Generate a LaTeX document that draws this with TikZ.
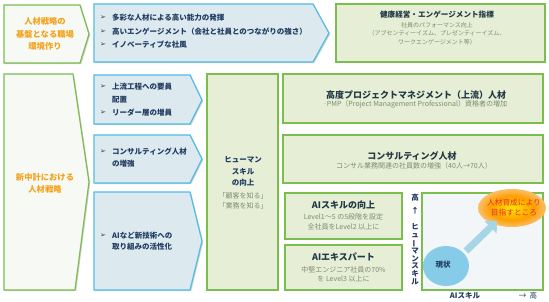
\documentclass[tikz,border=0pt]{standalone}
\usepackage{fontspec}
\setmainfont{Noto Sans CJK JP}
\newfontfamily\dejavu{DejaVu Sans}
\usepackage{graphicx}
\usetikzlibrary{shadows,arrows.meta}
\definecolor{bfill}{HTML}{DCE9EF}
\definecolor{bdraw}{HTML}{4FBDE6}
\definecolor{gfill}{HTML}{E6EFD5}
\definecolor{gdraw}{HTML}{7CBE4E}
\definecolor{wfill}{HTML}{F7F9F5}
\definecolor{orng}{HTML}{F4A21C}
\definecolor{navy}{HTML}{1F3B60}
\definecolor{dark}{HTML}{233845}
\definecolor{subc}{HTML}{7D8B72}
\definecolor{plotbg}{HTML}{F3F6F8}
\definecolor{redt}{HTML}{E5302A}
\definecolor{ablue}{HTML}{A6D5E5}
\definecolor{cblue}{HTML}{86CBE8}
\pgfdeclareradialshading{glowshade}{\pgfpoint{0bp}{0bp}}{color(0bp)=(yellow!80!orange); color(16bp)=(orange!75!yellow); color(32bp)=(orange!25!plotbg); color(46bp)=(plotbg); color(50bp)=(plotbg)}
\pgfdeclareradialshading{nowshade}{\pgfpoint{0bp}{0bp}}{color(0bp)=(cblue); color(34bp)=(cblue); color(46bp)=(cblue!30!plotbg); color(50bp)=(plotbg)}
\newcommand\bulmark{{\dejavu\fontsize{7}{7}\selectfont ➢}}
\begin{document}
\begin{tikzpicture}[x=1pt,y=-1pt,
  shp/.style={line width=1.2pt, drop shadow={shadow xshift=1.2pt,shadow yshift=-1.2pt,opacity=0.3,fill=black!60}},
  bshape/.style={shp, draw=bdraw, fill=bfill},
  gshape/.style={shp, draw=gdraw, fill=gfill},
  wshape/.style={shp, draw=gdraw, fill=wfill},
  otxt/.style={font=\bfseries\fontsize{8.3}{12.5}\selectfont, text=orng, align=center, inner sep=0},
  btxt/.style={font=\bfseries\fontsize{7.5}{9}\selectfont, text=navy, anchor=west, inner sep=0},
  bul/.style={text=navy, inner sep=0},
  htxt/.style={font=\bfseries\fontsize{7.5}{9}\selectfont, text=navy, inner sep=0},
  gtitle/.style={font=\bfseries\fontsize{9}{10}\selectfont, text=dark, inner sep=0},
  gsub/.style={font=\fontsize{7}{8}\selectfont, text=subc, inner sep=0},
  axtxt/.style={font=\bfseries\fontsize{7.5}{8}\selectfont, text=navy, inner sep=0}
]
\useasboundingbox (0,0) rectangle (549,302);
\fill[white] (0,0) rectangle (549,302);

% top row
\draw[wshape] (4,5) -- (80,5) -- (89,34) -- (80,63) -- (4,63) -- cycle;
\node[otxt] (t1) at (45,34) {人材戦略の\\基盤となる職場\\環境作り};

\draw[bshape] (94,4) -- (313,4) -- (329,33) -- (313,62) -- (94,62) -- cycle;
\node[bul] (tb1) at (103,18) {\bulmark};
\node[btxt] (tt1) at (112,18) {多彩な人材による高い能力の発揮};
\node[bul] (tb2) at (103,31.5) {\bulmark};
\node[btxt] (tt2) at (112,31.5) {高いエンゲージメント（会社と社員とのつながりの強さ）};
\node[bul] (tb3) at (103,45) {\bulmark};
\node[btxt] (tt3) at (112,45) {イノベーティブな社風};

\draw[gshape] (336,4) rectangle (545,62);
\node[gtitle, font=\bfseries\fontsize{7.6}{9}\selectfont] (kt) at (437,15) {健康経営・エンゲージメント指標};
\node[gsub, font=\fontsize{6}{7}\selectfont] (ks1) at (437,25) {社員のパフォーマンス向上};
\node[gsub, font=\fontsize{6}{7}\selectfont] (ks2) at (437,33.5) {（アブセンティーイズム、プレゼンティーイズム、};
\node[gsub, font=\fontsize{6}{7}\selectfont] (ks3) at (437,42) {ワークエンゲージメント等）};

% second row left
\draw[wshape] (4,74) -- (73,74) -- (89,182) -- (75,290) -- (4,290) -- cycle;
\node[otxt] (t2) at (45,183.5) {新中計における\\人材戦略};

% blue boxes
\draw[bshape] (94,75) -- (190,75) -- (202,100) -- (190,124) -- (94,124) -- cycle;
\node[bul] (b1a) at (103,87) {\bulmark};
\node[btxt] (b1t1) at (112,87) {上流工程への要員};
\node[btxt] (b1t2) at (112,100) {配置};
\node[bul] (b1b) at (103,113) {\bulmark};
\node[btxt] (b1t3) at (112,113) {リーダー層の増員};

\draw[bshape] (94,135) -- (190,135) -- (202,159) -- (190,183) -- (94,183) -- cycle;
\node[bul] (b2a) at (103,152) {\bulmark};
\node[btxt] (b2t1) at (112,152) {コンサルティング人材};
\node[btxt] (b2t2) at (112,164) {の増強};

\draw[bshape] (94,192) -- (190,192) -- (202,241) -- (190,290) -- (94,290) -- cycle;
\node[bul] (b3a) at (103,236) {\bulmark};
\node[btxt] (b3t1) at (112,236) {AIなど新技術への};
\node[btxt] (b3t2) at (112,247) {取り組みの活性化};

% human skill
\draw[gshape] (207,74) rectangle (278,290);
\node[htxt] (h1) at (243,160) {ヒューマン};
\node[htxt] (h2) at (243,171.5) {スキル};
\node[htxt] (h3) at (243,183) {の向上};
\node[gsub] (h4) at (243,196) {「顧客を知る」};
\node[gsub] (h5) at (243,205.5) {「業務を知る」};

% right boxes
\draw[gshape] (283,74) rectangle (543,123);
\node[gtitle] (g1t) at (416,95) {高度プロジェクトマネジメント（上流）人材};
\node[gsub] (g1s) at (415,104) {·PMP（Project Management Professional）資格者の増加};

\draw[gshape] (283,135) rectangle (543,183);
\node[gtitle] (g2t) at (412,156) {コンサルティング人材};
\node[gsub] (g2s) at (414,165.5) {コンサル業務関連の社員数の増強（40人→70人）};

\draw[gshape] (285,193) rectangle (402,239);
\node[gtitle] (g3t) at (343.5,205) {AIスキルの向上};
\node[gsub] (g3s1) at (343.5,217) {Level1～5 の5段階を設定};
\node[gsub] (g3s2) at (343.5,227) {全社員をLevel2 以上に};

\draw[gshape] (285,245) rectangle (402,290);
\node[gtitle] (g4t) at (343.5,257) {AIエキスパート};
\node[gsub] (g4s1) at (343.5,270) {中堅エンジニア社員の70\%};
\node[gsub] (g4s2) at (343.5,279) {を Level3 以上に};

% graph
\draw[line width=1.2pt, draw=gdraw, fill=plotbg] (422,193) rectangle (543,290);
\shade[shading=glowshade] (512,208) ellipse (34 and 19);
\shade[shading=nowshade] (446,266) ellipse (23 and 20);
\coordinate (as) at (466,251);
\coordinate (ae) at (497,221);
\draw[ablue, line width=7pt, -{Triangle[length=9pt,width=17pt]}] (as) -- (ae);
\node[font=\fontsize{7.7}{9}\selectfont, text=redt, inner sep=0] (goal1) at (514,203) {人材育成により};
\node[font=\fontsize{7.7}{9}\selectfont, text=redt, inner sep=0] (goal2) at (514,212.5) {目指すところ};
\node[axtxt] (now) at (443,265) {現状};
\node[axtxt] (hi1) at (415,198) {高};
\node[axtxt] (up) at (415,211) {↑};
\node[axtxt, align=center, font=\bfseries\fontsize{7.5}{7.8}\selectfont] (hs) at (415,254.5) {ヒ\\ュ\\\rotatebox[origin=c]{90}{ー}\\マ\\ン\\ス\\キ\\ル};
\node[axtxt] (ai) at (465,296) {AIスキル};
\node[axtxt, font=\fontsize{7.5}{8}\selectfont] (hi2) at (528,296) {→\ \ 高};
\end{tikzpicture}
\end{document}
